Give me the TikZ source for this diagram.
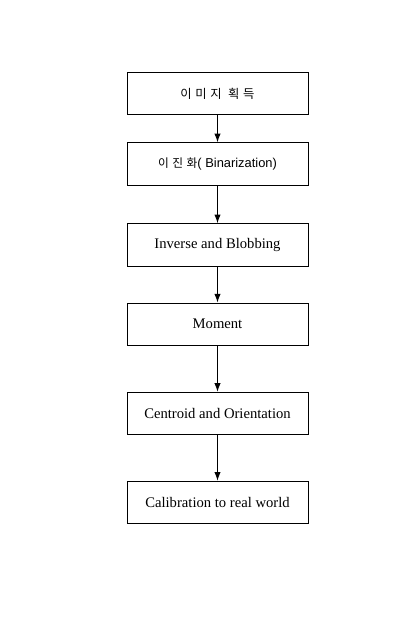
\documentclass[tikz,border=0pt]{standalone}
\usepackage{fontspec}
\setmainfont{Liberation Serif}
\newfontfamily\hangul{Noto Sans CJK KR}[LetterSpace=30]
\newfontfamily\helv{Liberation Sans}
\usetikzlibrary{arrows.meta,positioning}

\begin{document}
\begin{tikzpicture}[->,>={Latex[length=2.6mm,width=1.9mm]},thick,auto,every node/.style={draw,rectangle,minimum width=5.43cm,minimum height=1.27cm,inner sep=2pt,font=\fontsize{12.5}{14}\selectfont}]
  \useasboundingbox (0,0) rectangle (12.54,-18.99);
  \node (acq) at (6.525,-2.81) {\hangul\fontsize{10.5}{12}\selectfont 이미지 획득};
  \node (bin) [below=0.81cm of acq] {{\hangul\fontsize{10}{12}\selectfont 이진화}{\helv\fontsize{11}{13}\selectfont( Binarization)}};
  \node (blob) [below=1.13cm of bin] {Inverse and Blobbing};
  \node (mom) [below=1.08cm of blob] {Moment};
  \node (cent) [below=1.38cm of mom] {Centroid and Orientation};
  \node (calib) [below=1.37cm of cent] {Calibration to real world};
  \path (acq) edge (bin);
  \path (bin) edge (blob);
  \path (blob) edge (mom);
  \path (mom) edge (cent);
  \path (cent) edge (calib);
\end{tikzpicture}
\end{document}
